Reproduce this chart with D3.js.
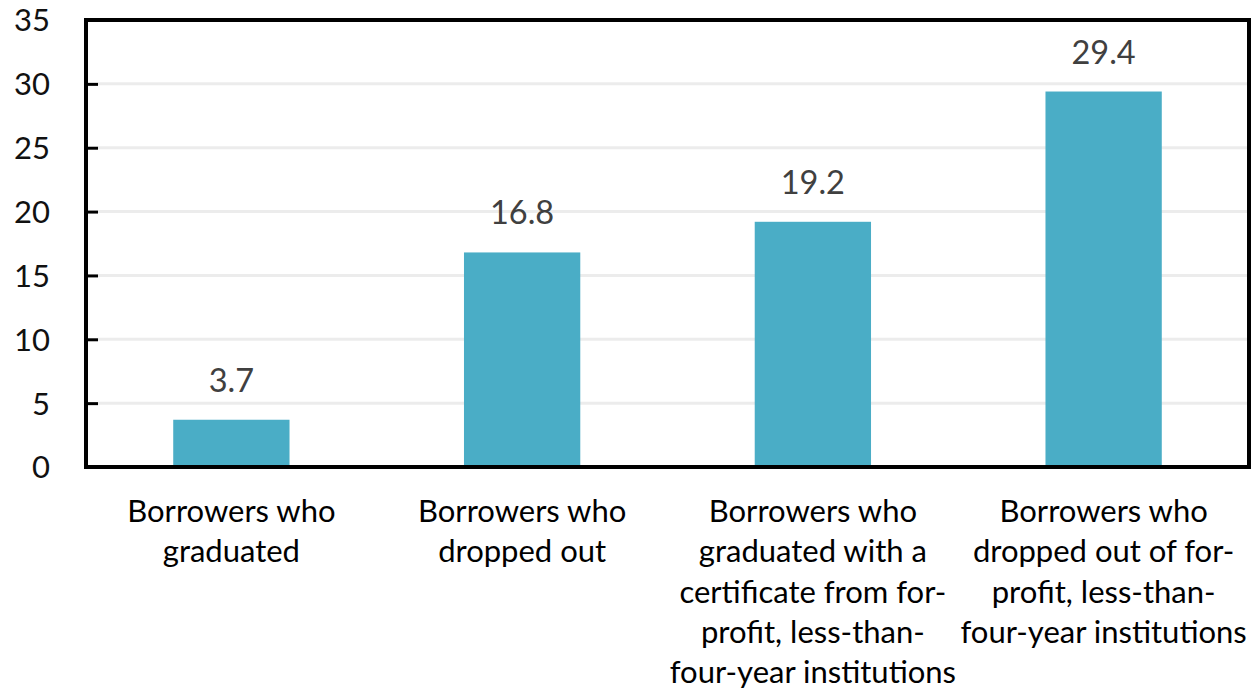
<!DOCTYPE html>
<html>
<head>
<meta charset="utf-8">
<script src="https://cdn.jsdelivr.net/npm/d3@7"></script>
<style>
  html, body { margin: 0; padding: 0; background: #ffffff; }
  svg { display: block; }
  text { font-family: Lato, "Open Sans", sans-serif; }
</style>
</head>
<body>
<svg id="chart" width="1254" height="691"></svg>
<script>
// Bar chart: borrower default rates by completion status
const categories = [
  ["Borrowers who", "graduated"],
  ["Borrowers who", "dropped out"],
  ["Borrowers who", "graduated with a", "certificate from for-", "profit, less-than-", "four-year institutions"],
  ["Borrowers who", "dropped out of for-", "profit, less-than-", "four-year institutions"]
];
const values = [3.7, 16.8, 19.2, 29.4];
const yTicks = [0, 5, 10, 15, 20, 25, 30, 35];

const svg = d3.select("#chart");
const margin = { left: 86, right: 5, top: 20, bottom: 224 };
const W = 1254, H = 691;
const x0 = margin.left, x1 = W - margin.right;
const y0 = H - margin.bottom, y1 = margin.top;

const keys = categories.map((c, i) => "c" + i);
const x = d3.scaleBand().domain(keys).range([x0, x1]).padding(0);
const y = d3.scaleLinear().domain([0, 35]).range([y0, y1]);

// horizontal gridlines
svg.append("g")
  .selectAll("line")
  .data(yTicks.filter(t => t > 0 && t < 35))
  .join("line")
  .attr("x1", x0 + 12).attr("x2", x1)
  .attr("y1", d => y(d)).attr("y2", d => y(d))
  .attr("stroke", "#ececec").attr("stroke-width", 3);

// bars
const barW = x.bandwidth() * 0.4;
svg.append("g")
  .selectAll("rect")
  .data(values)
  .join("rect")
  .attr("x", (d, i) => x(keys[i]) + (x.bandwidth() - barW) / 2)
  .attr("width", barW)
  .attr("y", d => y(d))
  .attr("height", d => y(0) - y(d))
  .attr("fill", "#4aadc6");

// value labels
svg.append("g")
  .selectAll("text")
  .data(values)
  .join("text")
  .attr("x", (d, i) => x(keys[i]) + x.bandwidth() / 2)
  .attr("y", d => y(d) - 28)
  .attr("text-anchor", "middle")
  .attr("font-size", 32.5)
  .attr("fill", "#404040")
  .text(d => d.toFixed(1));

// y axis with inward ticks
const yAxis = d3.axisLeft(y).tickValues(yTicks).tickSize(-12).tickPadding(36);
const ga = svg.append("g").attr("transform", `translate(${x0},0)`).call(yAxis);
ga.select(".domain").remove();
ga.selectAll(".tick line").attr("stroke", "#000").attr("stroke-width", 3);
ga.selectAll(".tick text")
  .attr("font-size", 31)
  .attr("fill", "#111")
  .attr("dy", "0.35em")
  .style("font-family", "Lato, 'Open Sans', sans-serif");

// plot frame
svg.append("rect")
  .attr("x", x0).attr("y", y1)
  .attr("width", x1 - x0).attr("height", y0 - y1)
  .attr("fill", "none").attr("stroke", "#000").attr("stroke-width", 4);

// category labels
const lab = svg.append("g")
  .selectAll("text")
  .data(categories)
  .join("text")
  .attr("x", (d, i) => x(keys[i]) + x.bandwidth() / 2)
  .attr("y", 522)
  .attr("text-anchor", "middle")
  .attr("font-size", 31)
  .attr("fill", "#000");
lab.selectAll("tspan")
  .data(d => d)
  .join("tspan")
  .attr("x", function () { return this.parentNode.getAttribute("x"); })
  .attr("dy", (d, i) => i === 0 ? 0 : 40.3)
  .text(d => d);
</script>
</body>
</html>
